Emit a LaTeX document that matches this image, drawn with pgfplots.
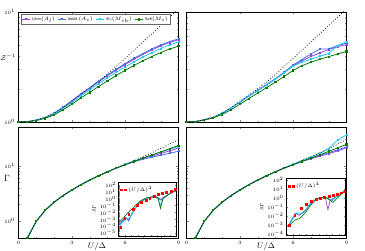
\documentclass[border=0pt]{standalone}
\usepackage{fontspec}
\newfontfamily\dejavu{DejaVu Sans}
\usepackage{pgfplots}
\pgfplotsset{compat=1.18}
\definecolor{clitim}{HTML}{9B3FE0}
\definecolor{caddit}{HTML}{4A6FE3}
\definecolor{csh}{HTML}{1EC8F0}
\definecolor{csoft}{HTML}{0A7A0A}
\tikzset{
 sLit/.style={color=clitim, mark=square*, mark size=0.5pt, line width=0.8pt},
 sAdd/.style={color=caddit, mark=square*, mark size=0.5pt, line width=0.8pt},
 sShs/.style={color=csh, mark=square*, mark size=0.5pt, line width=0.8pt},
 sSof/.style={color=csoft, mark=square*, mark size=0.6pt, line width=0.8pt},
 sDot/.style={black, dotted, line width=0.75pt},
 iLit/.style={color=clitim, line width=0.7pt},
 iAdd/.style={color=caddit, line width=0.7pt},
 iShs/.style={color=csh, line width=0.7pt},
 iSof/.style={color=csoft, line width=0.7pt},
}
\pgfplotsset{
 myPanel/.style={scale only axis, width=160pt, xmin=0, xmax=9,
   xtick={0,3,6,9}, minor xtick={1,2,4,5,7,8},
   tick align=inside, major tick length=2.2pt, minor tick length=1.3pt,
   tick label style={font=\fontsize{5}{6}\selectfont},
   axis line style={line width=0.6pt}},
 myTop/.style={myPanel, height=110pt, ymin=1, ymax=10, ytick={1,10}, xticklabels={}},
 myBot/.style={myPanel, height=111pt, ymin=0.5, ymax=50, ytick={1,10}},
 myInset/.style={scale only axis, xmin=0, xmax=9,
   xtick={0,...,9}, xticklabels={}, tick align=inside,
   major tick length=1.2pt, minor tick length=0.7pt,
   axis background/.style={fill=white},
   tick label style={font=\fontsize{3.3}{4}\selectfont},
   yticklabel style={xshift=0.8pt},
   axis line style={line width=0.5pt},
   ylabel={$\delta\Gamma$}, ylabel style={font=\fontsize{4.5}{5}\selectfont, yshift=-3pt},
   legend style={draw=none, fill=none, at={(0.03,0.96)}, anchor=north west,
     font=\fontsize{3.5}{4}\selectfont, inner sep=0pt},
   legend image code/.code={\draw[#1] plot[only marks] coordinates {(0pt,0pt) (4pt,0pt)};}},
}
\begin{document}
\begin{tikzpicture}
\useasboundingbox (0pt,0pt) rectangle (365pt,251pt);
% ---------------- top left
\begin{axis}[myTop, ymode=log, at={(18.5pt,129pt)}, anchor=south west,
  ylabel={$\mathcal{Z}^{-1}$},
  ylabel style={rotate=-90, at={(axis description cs:-0.066,0.59)}, anchor=center, font=\fontsize{7.5}{8}\selectfont},
  legend columns=4,
  legend style={at={(0.014,0.982)}, anchor=north west, font=\dejavu\fontsize{3.6}{4.2}\selectfont,
    inner sep=0.6pt, draw=black!60, line width=0.3pt, /tikz/every even column/.append style={column sep=0.5pt}},
  legend image code/.code={\draw[#1, mark repeat=2, mark phase=2] plot coordinates {(0pt,0pt) (4pt,0pt) (8pt,0pt)};}]
\addplot[sLit] coordinates {(0,1)(0.5,1.008)(1,1.04)(1.5,1.1)(2,1.2)(2.5,1.35)(3,1.55)(3.5,1.78)(4,2.03)(4.5,2.32)(5,2.63)(5.5,2.97)(6,3.33)(6.5,3.72)(7,4.12)(7.5,4.52)(8,4.92)(8.5,5.28)(9,5.6)};
\addlegendentry{Litim$(A_l)$}
\addplot[sAdd] coordinates {(0,1)(0.5,1.008)(1,1.04)(1.5,1.1)(2,1.2)(2.5,1.36)(3,1.56)(3.5,1.8)(4,2.05)(4.5,2.35)(5,2.67)(5.5,3.02)(6,3.4)(6.5,3.8)(7,4.2)(7.5,4.62)(8,5.02)(8.5,5.38)(9,5.7)};
\addlegendentry{Addit.$(A_c)$}
\addplot[sShs] coordinates {(0,1)(0.5,1.007)(1,1.035)(1.5,1.09)(2,1.18)(2.5,1.32)(3,1.5)(3.5,1.72)(4,1.96)(4.5,2.23)(5,2.52)(5.5,2.83)(6,3.17)(6.5,3.52)(7,3.9)(7.5,4.28)(8,4.66)(8.5,5.02)(9,5.35)};
\addlegendentry{Sh.$(M_{sh})$}
\addplot[sSof] coordinates {(0,1)(0.5,1.007)(1,1.03)(1.5,1.08)(2,1.16)(2.5,1.29)(3,1.45)(3.5,1.65)(4,1.86)(4.5,2.1)(5,2.36)(5.5,2.65)(6,2.95)(6.5,3.27)(7,3.6)(7.5,3.94)(8,4.28)(8.5,4.6)(9,4.9)};
\addlegendentry{Soft$(M_s)$}
\addplot[sDot, forget plot] coordinates {(0,1)(0.5,1.008)(1,1.04)(1.5,1.1)(2,1.2)(2.5,1.35)(3,1.55)(3.5,1.78)(4,2.03)(4.5,2.33)(5,2.72)(5.5,3.2)(6,3.8)(6.5,4.5)(7,5.35)(7.5,6.35)(8,7.55)(8.5,8.95)(9,10.6)};
\end{axis}
% ---------------- top right
\begin{axis}[myTop, ymode=log, at={(186.5pt,129pt)}, anchor=south west, yticklabels={}]
\addplot[sLit] coordinates {(0,1)(0.5,1.008)(1,1.05)(1.5,1.1)(2,1.2)(2.5,1.34)(3,1.52)(3.5,1.72)(4,1.93)(4.5,2.17)(5,2.45)(5.5,2.8)(6,3.25)(6.5,3.6)(7,3.95)(7.5,4.25)(8,4.55)(8.5,4.85)(9,5.05)};
\addplot[sAdd] coordinates {(0,1)(0.5,1.008)(1,1.05)(1.5,1.1)(2,1.2)(2.5,1.34)(3,1.52)(3.5,1.72)(4,1.94)(4.5,2.19)(5,2.48)(5.5,2.85)(6,3.3)(6.5,3.7)(7,4.15)(7.5,4.6)(8,4.62)(8.5,4.95)(9,5.2)};
\addplot[sShs] coordinates {(0,1)(0.5,1.008)(1,1.05)(1.5,1.1)(2,1.2)(2.5,1.34)(3,1.52)(3.5,1.72)(4,1.93)(4.5,2.18)(5,2.46)(5.5,2.82)(6,3.22)(6.5,3.5)(7,3.72)(7.5,3.95)(8,4.2)(8.5,4.95)(9,5.37)};
\addplot[sSof] coordinates {(0,1)(0.5,1.007)(1,1.04)(1.5,1.09)(2,1.17)(2.5,1.29)(3,1.45)(3.5,1.63)(4,1.83)(4.5,2.05)(5,2.3)(5.5,2.6)(6,2.95)(6.5,3.25)(7,3.5)(7.5,3.72)(8,3.93)(8.5,4.15)(9,4.38)};
\addplot[sDot] coordinates {(0,1)(0.5,1.008)(1,1.05)(1.5,1.1)(2,1.2)(2.5,1.35)(3,1.54)(3.5,1.76)(4,2.0)(4.5,2.3)(5,2.7)(5.5,3.2)(6,3.8)(6.5,4.5)(7,5.35)(7.5,6.35)(8,7.55)(8.5,8.95)(9,10.6)};
\end{axis}
% ---------------- bottom left
\begin{axis}[myBot, ymode=log, at={(18.5pt,13pt)}, anchor=south west,
  ylabel={$\Gamma$},
  ylabel style={rotate=-90, at={(axis description cs:-0.072,0.54)}, anchor=center, font=\fontsize{9}{10}\selectfont},
  xlabel={$U/\Delta$},
  xlabel style={at={(axis description cs:0.49,0)}, anchor=north, yshift=-1.2pt, font=\fontsize{8}{9}\selectfont}]
\addplot[sLit] coordinates {(0.3,0.25)(0.5,0.5)(1,1.0)(1.5,1.58)(2,2.2)(2.5,2.9)(3,3.65)(3.5,4.55)(4,5.5)(4.5,6.6)(5,7.8)(5.5,9.1)(6,10.5)(6.5,12.0)(7,13.5)(7.5,15.0)(8,16.6)(8.5,18.6)(9,21.0)};
\addplot[sAdd] coordinates {(0.3,0.25)(0.5,0.5)(1,1.0)(1.5,1.58)(2,2.2)(2.5,2.9)(3,3.65)(3.5,4.55)(4,5.5)(4.5,6.6)(5,7.8)(5.5,9.1)(6,10.5)(6.5,11.8)(7,13.1)(7.5,14.3)(8,15.5)(8.5,16.8)(9,18.3)};
\addplot[sShs] coordinates {(0.3,0.25)(0.5,0.5)(1,1.0)(1.5,1.58)(2,2.2)(2.5,2.9)(3,3.65)(3.5,4.55)(4,5.5)(4.5,6.6)(5,7.8)(5.5,9.1)(6,10.6)(6.5,12.2)(7,13.9)(7.5,15.6)(8,17.6)(8.5,19.8)(9,22.3)};
\addplot[sSof] coordinates {(0.3,0.25)(0.5,0.5)(1,1.0)(1.5,1.58)(2,2.2)(2.5,2.9)(3,3.65)(3.5,4.55)(4,5.5)(4.5,6.6)(5,7.8)(5.5,9.1)(6,10.5)(6.5,12.0)(7,13.8)(7.5,15.7)(8,17.8)(8.5,20.3)(9,23.2)};
\addplot[sDot] coordinates {(0.3,0.25)(0.5,0.5)(1,1.0)(1.5,1.58)(2,2.2)(2.5,2.9)(3,3.65)(3.5,4.5)(4,5.45)(4.5,6.5)(5,7.7)(5.5,9.0)(6,10.5)(6.5,12.3)(7,14.5)(7.5,17.2)(8,20.5)(8.5,24.5)(9,29.5)};
\end{axis}
% ---------------- bottom right
\begin{axis}[myBot, ymode=log, at={(186.5pt,13pt)}, anchor=south west, yticklabels={},
  xlabel={$U/\Delta$},
  xlabel style={at={(axis description cs:0.497,0)}, anchor=north, yshift=-1.2pt, font=\fontsize{8}{9}\selectfont}]
\addplot[sLit] coordinates {(0.3,0.25)(0.5,0.5)(1,1.0)(1.5,1.58)(2,2.2)(2.5,2.9)(3,3.65)(3.5,4.55)(4,5.5)(4.5,6.6)(5,7.8)(5.5,9.1)(6,10.5)(6.5,12.0)(7,13.4)(7.5,14.9)(8,16.5)(8.5,18.6)(9,21.0)};
\addplot[sAdd] coordinates {(0.3,0.25)(0.5,0.5)(1,1.0)(1.5,1.58)(2,2.2)(2.5,2.9)(3,3.65)(3.5,4.55)(4,5.5)(4.5,6.6)(5,7.8)(5.5,9.1)(6,10.5)(6.5,12.0)(7,13.6)(7.5,15.4)(8,17.2)(8.5,19.4)(9,21.8)};
\addplot[sShs] coordinates {(0.3,0.25)(0.5,0.5)(1,1.0)(1.5,1.58)(2,2.2)(2.5,2.9)(3,3.65)(3.5,4.55)(4,5.5)(4.5,6.6)(5,7.8)(5.5,9.2)(6,10.7)(6.5,12.4)(7,14.4)(7.5,16.8)(8,20.5)(8.5,29.0)(9,36.0)};
\addplot[sSof] coordinates {(0.3,0.25)(0.5,0.5)(1,1.0)(1.5,1.58)(2,2.2)(2.5,2.9)(3,3.65)(3.5,4.55)(4,5.5)(4.5,6.6)(5,7.8)(5.5,9.1)(6,10.5)(6.5,12.0)(7,13.7)(7.5,15.8)(8,18.2)(8.5,21.0)(9,24.3)};
\addplot[sDot] coordinates {(0.3,0.25)(0.5,0.5)(1,1.0)(1.5,1.58)(2,2.2)(2.5,2.9)(3,3.65)(3.5,4.55)(4,5.5)(4.5,6.6)(5,7.8)(5.5,9.1)(6,10.6)(6.5,12.4)(7,14.5)(7.5,17.0)(8,20.3)(8.5,24.5)(9,30.0)};
\end{axis}
% ---------------- inset left
\begin{axis}[myInset, ymode=log, at={(118.7pt,15pt)}, anchor=south west, width=57.8pt, height=54pt,
  ymin=4e-6, ymax=240, ytick={1e-5,1e-4,1e-3,1e-2,1e-1,1,10,100}]
\addplot[red, only marks, mark=square*, mark size=0.9pt] coordinates {(0.31,6.5e-5)(0.94,1.4e-3)(1.56,5.8e-3)(2.24,3e-2)(2.92,0.11)(3.54,0.27)(4.22,0.58)(4.84,1.26)(5.52,2.4)(6.15,3.7)(6.82,5.8)(7.45,8.9)(8.13,12.6)(8.75,19.5)};
\addlegendentry{$(U/\Delta)^4$}
\addplot[iLit] coordinates {(0.16,2.2e-4)(0.68,8e-4)(1.2,1.6e-3)(1.56,7e-4)(2.0,5e-3)(2.5,3e-2)(3.0,0.14)(3.54,0.42)(4.32,0.95)(5.1,1.5)(5.73,1.9)(6.25,1.2)(6.56,0.7)(6.9,1.3)(7.7,3.6)(8.85,15)};
\addplot[iAdd] coordinates {(0.16,1.6e-4)(0.68,5.8e-4)(1.2,1.4e-3)(1.56,6e-4)(2.0,5e-3)(2.5,3.2e-2)(3.0,0.14)(3.54,0.42)(4.32,1.0)(5.1,1.55)(5.73,1.95)(6.25,1.0)(6.56,0.57)(6.9,1.25)(7.7,3.7)(8.85,16)};
\addplot[iShs] coordinates {(0.16,1.2e-4)(0.68,4.5e-4)(1.2,1.2e-3)(1.56,1.3e-3)(2.0,4e-3)(2.5,2.5e-2)(3.0,0.12)(3.54,0.38)(4.32,0.9)(5.1,1.45)(5.73,1.8)(6.15,0.8)(6.45,0.11)(6.9,0.9)(7.7,3.4)(8.85,14)};
\addplot[iSof] coordinates {(0.16,4.7e-4)(0.68,1.4e-3)(1.2,5e-3)(1.72,1.6e-2)(2.24,4.7e-2)(2.92,0.19)(3.54,0.57)(4.32,1.26)(5.1,1.74)(5.73,1.95)(6.15,1.0)(6.5,0.037)(6.9,1.0)(7.7,3.7)(8.75,12.6)};
\end{axis}
% ---------------- inset right
\begin{axis}[myInset, ymode=log, at={(286.3pt,15.7pt)}, anchor=south west, width=59pt, height=57.3pt,
  ymin=6.5e-5, ymax=180, ytick={1e-4,1e-3,1e-2,1e-1,1,10,100}]
\addplot[red, only marks, mark=square*, mark size=0.9pt] coordinates {(0.5,8.7e-4)(1.27,1.2e-2)(2.3,6.6e-2)(3.05,0.19)(3.8,0.44)(4.57,0.74)(5.2,1.02)(5.84,1.35)(6.5,1.74)(7.1,2.04)(7.77,2.7)(8.4,4.1)(8.9,5.8)};
\addlegendentry{$(U/\Delta)^4$}
\addplot[iLit] coordinates {(0.25,5.6e-4)(0.8,3e-3)(1.5,1.8e-2)(2.0,1.2e-2)(2.8,3e-2)(3.5,0.15)(4.2,0.45)(4.8,0.9)(5.5,1.15)(6.0,0.8)(6.35,0.05)(6.7,0.6)(7.5,1.3)(8.3,2.6)(8.9,6.5)};
\addplot[iAdd] coordinates {(0.25,5.6e-4)(0.8,3.5e-3)(1.5,2e-2)(2.0,1.3e-2)(2.8,3.5e-2)(3.5,0.16)(4.2,0.5)(4.8,0.95)(5.5,1.2)(6.3,1.0)(6.9,0.45)(7.5,1.2)(8.3,3)(8.9,7.5)};
\addplot[iShs] coordinates {(0.25,5.6e-4)(0.8,4e-3)(1.5,2.2e-2)(2.0,1.4e-2)(2.8,3.5e-2)(3.5,0.16)(4.2,0.5)(4.8,0.95)(5.5,1.2)(6.3,1.05)(6.9,0.5)(7.5,1.3)(8.3,3.2)(8.9,7)};
\addplot[iSof] coordinates {(0.25,5.6e-4)(0.8,1.5e-3)(1.27,3.2e-3)(2.0,5e-3)(2.8,1.8e-2)(3.5,0.1)(4.2,0.4)(4.8,0.9)(5.5,1.2)(6.3,0.9)(7.1,0.32)(7.7,0.9)(8.3,2.4)(8.9,6)};
\end{axis}
\end{tikzpicture}
\end{document}
